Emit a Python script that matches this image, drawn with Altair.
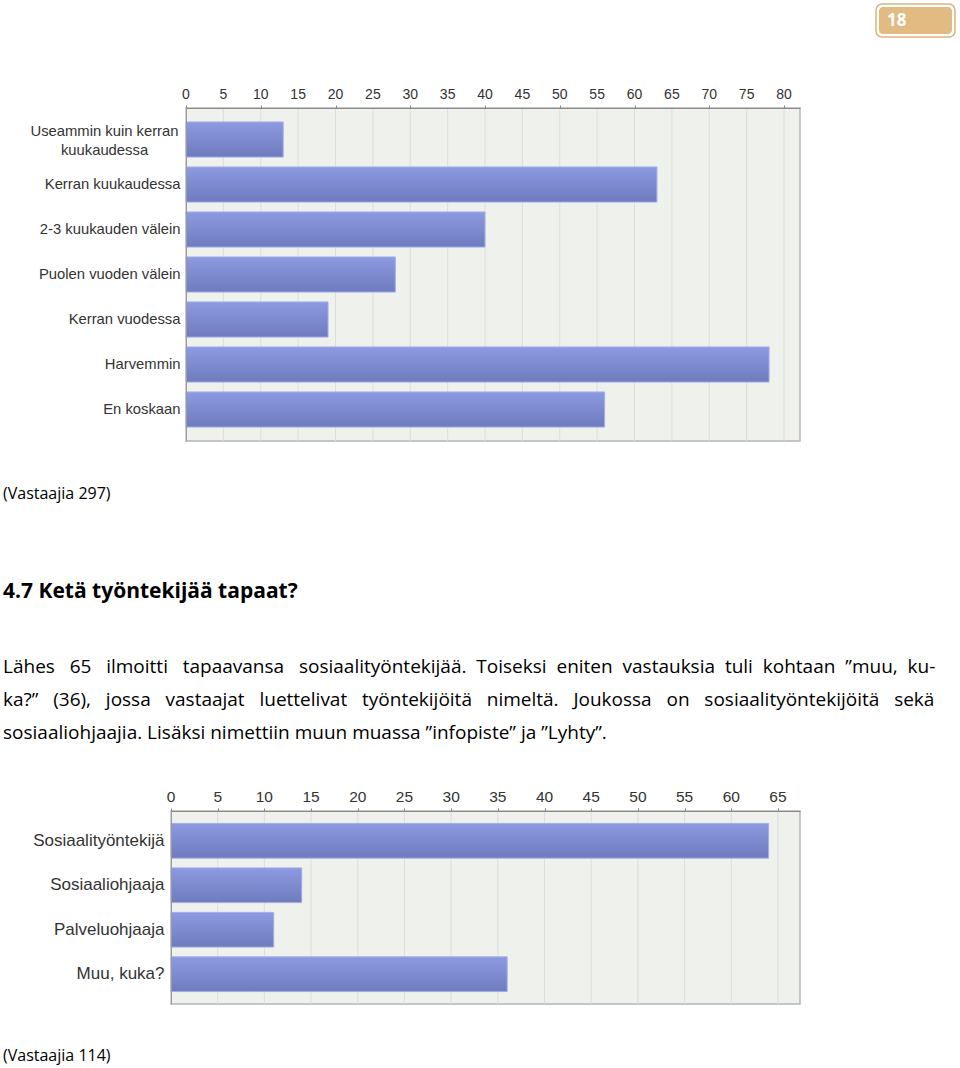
import altair as alt
import pandas as pd

# ---------------- data ----------------
freq_labels = [
    "Useammin kuin kerran kuukaudessa",
    "Kerran kuukaudessa",
    "2-3 kuukauden välein",
    "Puolen vuoden välein",
    "Kerran vuodessa",
    "Harvemmin",
    "En koskaan",
]
freq_values = [13, 63, 40, 28, 19, 78, 56]

worker_labels = ["Sosiaalityöntekijä", "Sosiaaliohjaaja", "Palveluohjaaja", "Muu, kuka?"]
worker_values = [64, 14, 11, 36]

ticks1 = list(range(0, 81, 5))
ticks2 = list(range(0, 66, 5))

page_number = ["18"]
caption1 = ["(Vastaajia 297)"]
heading = ["4.7 Ketä työntekijää tapaat?"]
paragraph = [
    "Lähes 65 ilmoitti tapaavansa sosiaalityöntekijää. Toiseksi eniten vastauksia tuli kohtaan \u201dmuu, ku-",
    "ka?\u201d (36), jossa vastaajat luettelivat työntekijöitä nimeltä. Joukossa on sosiaalityöntekijöitä sekä",
    "sosiaaliohjaajia. Lisäksi nimettiin muun muassa \u201dinfopiste\u201d ja \u201dLyhty\u201d.",
]
caption2 = ["(Vastaajia 114)"]

df1 = pd.DataFrame({"label": freq_labels, "value": freq_values})
df2 = pd.DataFrame({"label": worker_labels, "value": worker_values})

# ---------------- styles ----------------
AX_FONT = "Liberation Sans"
DOC_FONT = "Open Sans"
BG = "#eff1ed"
GRID = "#dcdfda"
bar_fill = alt.Gradient(
    gradient="linear",
    stops=[alt.GradientStop(color="#8d9ae2", offset=0),
           alt.GradientStop(color="#6e7bbd", offset=1)],
    x1=0, x2=0, y1=0, y2=1,
)


def justify(line, extra):
    """Widen the word gaps with 'extra' non-breaking spaces (justified look)."""
    words = line.split(" ")
    gaps = len(words) - 1
    out = words[0]
    for i, w in enumerate(words[1:]):
        k = extra // gaps + (1 if i < extra % gaps else 0)
        out += " " + "\u00a0" * k + w
    return out


def one(values):
    return pd.DataFrame({"t": values})


def guide(x, y, y2):
    # invisible rule that fixes the panel's extent on the page
    return alt.Chart(one([""])).mark_rule(opacity=0).encode(
        x=alt.value(x), y=alt.value(y), y2=alt.value(y2)
    )


def bar_panel(df, labels, ticks, xmax, inset, width, height, pad_in, pad_out,
              xfs, yfs, ypad, special=None):
    xscale = alt.Scale(domain=[0, xmax], nice=False, zero=True, range=[inset, width])
    xaxis = alt.Axis(
        orient="top", values=ticks, title=None, labels=False, tickSize=3, tickColor="#888888",
        domainColor="#8a8a8a", grid=False, zindex=1,
    )
    ykw = dict(
        title=None, labelFont=AX_FONT, labelFontSize=yfs, labelColor="#333333",
        labelPadding=ypad, ticks=False, domainColor="#9a9a9a", labelLimit=300,
        labelLineHeight=19, offset=-inset, zindex=1,
    )
    if special:
        name, first, second, center_pad = special
        test = "datum.value == '%s'" % name
        ykw["labelExpr"] = "%s ? ['%s', '%s'] : datum.value" % (test, first, second)
        ykw["labelAlign"] = {"condition": {"test": test, "value": "center"}, "value": "right"}
        ykw["labelPadding"] = {"condition": {"test": test, "value": center_pad}, "value": ypad}
        ykw["labelOffset"] = {"condition": {"test": test, "value": -8}, "value": 0}

    tick_df = pd.DataFrame({"tick": ticks})
    bg = alt.Chart(one([""])).mark_rect(fill=BG, stroke="#b5b5b5", strokeWidth=1.5).encode(
        x=alt.datum(0, scale=xscale), x2=alt.datum(xmax), y=alt.value(0), y2=alt.value(height)
    )
    grid = alt.Chart(tick_df).mark_rule(color=GRID, strokeWidth=1).encode(
        x=alt.X("tick:Q", scale=xscale, axis=xaxis), y=alt.value(0), y2=alt.value(height)
    )
    tick_labels = alt.Chart(tick_df).mark_text(
        font=AX_FONT, fontSize=xfs, color="#333333", align="center", baseline="bottom"
    ).encode(
        x=alt.X("tick:Q", scale=xscale, axis=xaxis), y=alt.value(-6), text="tick:Q"
    )
    bars = alt.Chart(df).mark_bar(fill=bar_fill, stroke="#a3adea", strokeWidth=1).encode(
        x=alt.X("value:Q", scale=xscale, axis=xaxis),
        y=alt.Y("label:N", sort=labels,
                scale=alt.Scale(paddingInner=pad_in, paddingOuter=pad_out), axis=alt.Axis(**ykw)),
    )
    return [bg, grid, bars, tick_labels]


# common plot origin of both panels on the page: x = 171
OX = 171

# ---------------- chart 1 ----------------
W1, H1 = 629, 333
oy1 = 108
inset1 = 186 - OX
panel1 = bar_panel(
    df1, freq_labels, ticks1, 82.14, inset1, W1, H1, 0.22, 0.31, 14, 14.8, 6,
    special=(freq_labels[0], "Useammin kuin kerran", "kuukaudessa", 82),
)

badge_outer = alt.Chart(one([""])).mark_rect(
    fill="white", stroke="#d9b47e", strokeWidth=1.5, cornerRadius=6
).encode(x=alt.value(876 - OX), x2=alt.value(955 - OX), y=alt.value(4 - oy1), y2=alt.value(37 - oy1))
badge_inner = alt.Chart(one([""])).mark_rect(fill="#e2bb83", cornerRadius=4).encode(
    x=alt.value(879 - OX), x2=alt.value(952 - OX), y=alt.value(7 - oy1), y2=alt.value(34 - oy1)
)
badge_text = alt.Chart(one(page_number)).mark_text(
    align="left", baseline="middle", font="Open Sans", fontWeight="bold", fontSize=17, color="white"
).encode(text="t:N", x=alt.value(887 - OX), y=alt.value(21 - oy1))

cap1 = alt.Chart(one(caption1)).mark_text(
    align="left", baseline="middle", font=DOC_FONT, fontSize=16, color="black"
).encode(text="t:N", x=alt.value(3 - OX), y=alt.value(494 - oy1))
head = alt.Chart(one(heading)).mark_text(
    align="left", baseline="middle", font=DOC_FONT, fontSize=21, fontWeight="bold", color="black"
).encode(text="t:N", x=alt.value(3 - OX), y=alt.value(592 - oy1))

para_lines = [justify(paragraph[0], 15), justify(paragraph[1], 20), paragraph[2]]
para = alt.Chart(one(["\n".join(para_lines)])).mark_text(
    align="left", baseline="middle", font=DOC_FONT, fontSize=19, color="black",
    lineBreak="\n", lineHeight=33,
).encode(text="t:N", x=alt.value(3 - OX), y=alt.value(667 - oy1))

chart1 = alt.layer(
    guide(-OX, -oy1, 760 - oy1), *panel1, badge_outer, badge_inner, badge_text, cap1, head, para
).properties(width=W1, height=H1, view=alt.ViewBackground(fill="white", strokeWidth=0))

# ---------------- chart 2 ----------------
W2, H2 = 629, 193
oy2 = 811
panel2 = bar_panel(df2, worker_labels, ticks2, 67.36, 0, W2, H2, 0.22, 0.28, 15.5, 17, 7)
cap2 = alt.Chart(one(caption2)).mark_text(
    align="left", baseline="middle", font=DOC_FONT, fontSize=16, color="black"
).encode(text="t:N", x=alt.value(3 - OX), y=alt.value(1056 - oy2))

chart2 = alt.layer(guide(-OX, 760 - oy2, 1066 - oy2), *panel2, cap2).properties(
    width=W2, height=H2, view=alt.ViewBackground(fill="white", strokeWidth=0)
)

chart = alt.concat(chart1, chart2, columns=1, spacing=0).properties(
    padding=0, background="white"
)

chart.save("out.html", embed_options={"renderer": "svg", "actions": False})
